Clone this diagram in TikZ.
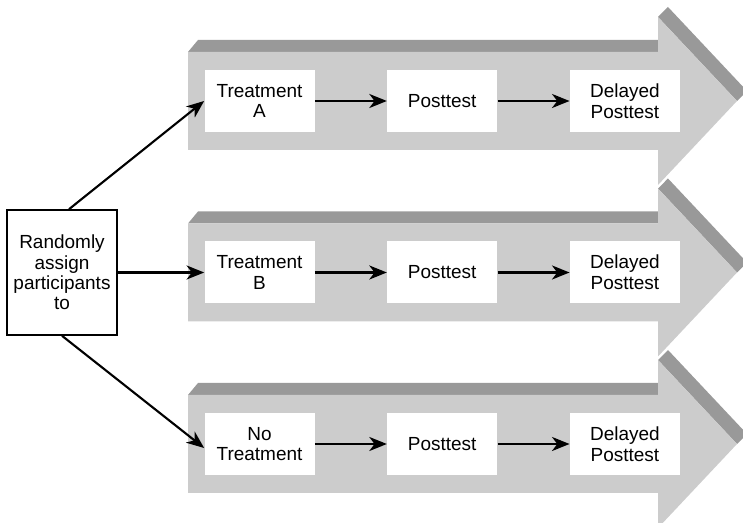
\documentclass[tikz,border=0pt]{standalone}
\usepackage{fontspec}
\setmainfont{Liberation Sans}
\usetikzlibrary{arrows.meta, positioning}
\definecolor{bandgray}{HTML}{999999}
\definecolor{bodygray}{HTML}{CCCCCC}

\begin{document}
\begin{tikzpicture}[>={Stealth[length=10pt, width=8pt, inset=3pt]}, node distance=1.44cm,
	link/.style={->, line width=1.2pt},
	phase/.style={rectangle, fill=white, minimum width=2.2cm, minimum height=1.24cm, align=center, inner sep=1pt, font=\fontsize{10.8}{11.8}\selectfont},
	assign/.style={rectangle, draw, fill=white, line width=0.9pt, minimum width=2.2cm, minimum height=2.5cm, align=center, inner sep=1pt, font=\fontsize{10.8}{11.6}\selectfont}]
		\useasboundingbox (0,0) rectangle (14.86,-10.46);

		\foreach \c in {-2.02, -5.45, -8.88} {
			\fill[bandgray] (3.76,\c+0.98) -- (3.96,\c+1.22) -- (13.16,\c+1.22) -- (13.16,\c+0.98) -- cycle;
			\fill[bandgray] (13.16,\c+1.68) -- (13.36,\c+1.88) -- (14.94,\c+0.2) -- (14.74,\c) -- cycle;
			\fill[bodygray] (3.76,\c+0.98) -- (13.16,\c+0.98) -- (13.16,\c+1.68) -- (14.74,\c)
				-- (13.16,\c-1.68) -- (13.16,\c-0.98) -- (3.76,\c-0.98) -- cycle;
		}

		\node[phase] (TreatA) at (5.19,-2.02) {Treatment\\A};
		\node[phase, right=of TreatA] (PostA) {Posttest};
		\node[phase, right=of PostA] (DelayA) {Delayed\\Posttest};

		\node[phase] (TreatB) at (5.19,-5.45) {Treatment\\B};
		\node[phase, right=of TreatB] (PostB) {Posttest};
		\node[phase, right=of PostB] (DelayB) {Delayed\\Posttest};

		\node[phase] (NoTreat) at (5.19,-8.88) {No\\Treatment};
		\node[phase, right=of NoTreat] (PostC) {Posttest};
		\node[phase, right=of PostC] (DelayC) {Delayed\\Posttest};

		\node[assign] (Assign) at (1.24,-5.45) {Randomly\\assign\\participants\\to};

		\draw[link] ([xshift=0.14cm]Assign.north) -- (TreatA.west);
		\draw[link] (Assign) -- (TreatB);
		\draw[link] (Assign.south) -- ([yshift=-0.08cm]NoTreat.west);

		\draw[link] (TreatA) -- (PostA);
		\draw[link] (PostA) -- (DelayA);
		\draw[link] (TreatB) -- (PostB);
		\draw[link] (PostB) -- (DelayB);
		\draw[link] (NoTreat) -- (PostC);
		\draw[link] (PostC) -- (DelayC);

	\end{tikzpicture}
\end{document}
